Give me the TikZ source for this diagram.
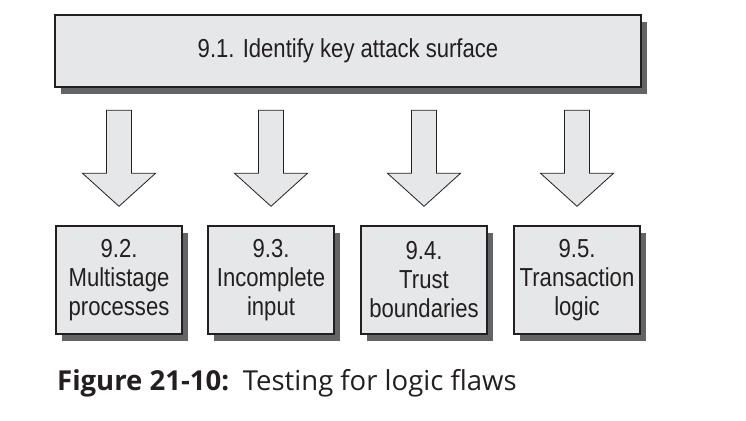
\documentclass[tikz,border=0pt]{standalone}
\usepackage{fontspec}
\setmainfont{Liberation Sans}[FakeStretch=0.85]
\newfontfamily\capfont{Open Sans}
\usetikzlibrary{calc}
\definecolor{boxfill}{HTML}{E6E7E8}
\definecolor{inkline}{HTML}{231F20}
\definecolor{shadowgray}{HTML}{636466}
\tikzset{
  box/.style={draw=inkline, line width=1.4pt, fill=boxfill, text=inkline,
    inner sep=0pt, align=center, font=\fontsize{26}{29}\selectfont,
    preaction={fill=shadowgray, transform canvas={xshift=6pt, yshift=-7pt}}},
  lowbox/.style={box, minimum width=126pt, minimum height=108pt},
  bigarrow/.style={draw=inkline, line width=0.8pt, fill=boxfill, line join=miter}
}
\begin{document}
\begin{tikzpicture}[x=1pt, y=-1pt]
\useasboundingbox (0,0) rectangle (746,420);
\node[box, minimum width=586pt, minimum height=72pt] (t) at (348,51) {9.1. Identify key attack surface};
\node[lowbox] (b1) at (119,280) {9.2.\\Multistage\\processes};
\node[lowbox] (b2) at (271,280) {9.3.\\Incomplete\\input};
\node[lowbox] (b3) at (424,280) {9.4.\\Trust\\boundaries};
\node[lowbox] (b4) at (577,280) {9.5.\\Transaction\\logic};
\foreach \b in {b1,b2,b3,b4}{
  \coordinate (tip-\b) at ($(\b.north)+(0,-19)$);
  \draw[bigarrow] (tip-\b) -- ++(-36.5,-33) -- ++(24,0) -- ++(0,-63) -- ++(25,0) -- ++(0,63) -- ++(24,0) -- cycle;
}
\node[anchor=base west, inner sep=0pt, text=inkline, font=\capfont\fontsize{27.5}{32}\selectfont] (cap) at (57,390) {\textbf{Figure 21-10:}\enspace Testing for logic flaws};
\end{tikzpicture}
\end{document}
